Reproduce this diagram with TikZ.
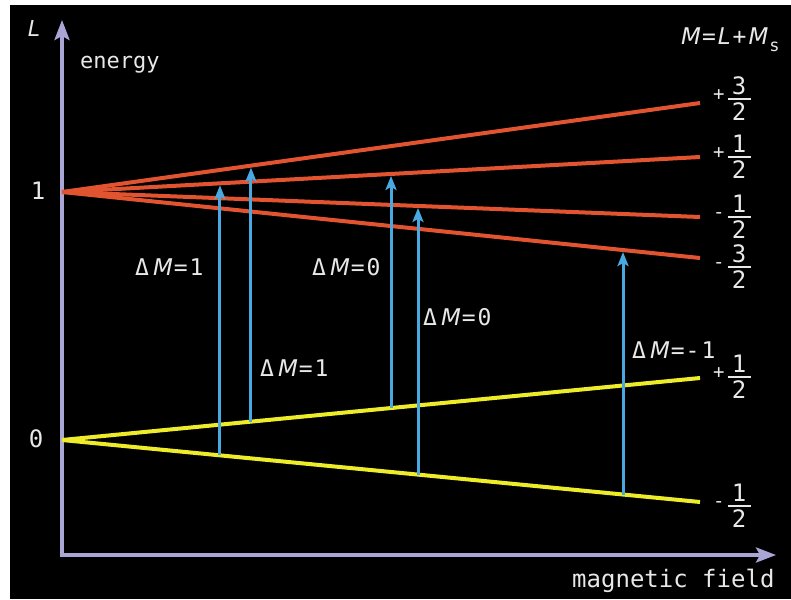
\documentclass[tikz,border=0pt]{standalone}
\usepackage{fontspec}
\usetikzlibrary{arrows.meta,calc}
\newfontfamily\tf{DejaVu Sans Mono}
\newfontfamily\tfs{DejaVu Sans}
\definecolor{axiscol}{RGB}{169,166,214}
\definecolor{redl}{RGB}{226,84,48}
\definecolor{yell}{RGB}{238,236,40}
\definecolor{bluea}{RGB}{74,168,224}
\definecolor{txt}{RGB}{232,232,232}
\newcommand\im[1]{{\tfs\itshape #1}}
\newcommand\dm{Δ\kern4pt\im{M}\kern1pt}
\newcommand\sgn[1]{\raisebox{5pt}{\fontsize{19}{19}\selectfont #1}}
\newcommand\frc[2]{#1\kern3pt$\vcenter{\offinterlineskip\halign{\hfil##\hfil\cr\hbox{#2}\cr\noalign{\kern3pt}\vrule width 23pt height 1.7pt depth 0pt\cr\noalign{\kern3pt}\hbox{2}\cr}}$}
\begin{document}
\begin{tikzpicture}[x=1pt,y=-1pt,
  axisline/.style={draw=axiscol,line width=3.5pt,line join=miter},
  redline/.style={draw=redl,line width=4pt},
  yelline/.style={draw=yell,line width=4pt},
  trans/.style={draw=bluea,line width=3pt,-{Stealth[length=14pt,width=11pt,inset=3pt]},shorten >=2pt},
  lbl/.style={inner sep=0pt,text=txt,font=\tf\fontsize{22}{26}\selectfont},
  dlbl/.style={inner sep=0pt,text=txt,font=\tf\fontsize{23}{27}\selectfont,anchor=base west},
  frlbl/.style={inner sep=0pt,text=txt,font=\tf\fontsize{24}{28}\selectfont,anchor=west}]
\useasboundingbox (0,0) rectangle (791,599);
\fill[white] (0,0) rectangle (791,599);
\fill[black] (9.5,5) rectangle (791,599);
% axes
\coordinate (ytip) at (62,20);
\coordinate (orig) at (62,555);
\coordinate (xtip) at (776,555);
\draw[axisline,{Stealth[length=20pt,width=15pt,inset=4pt]}-{Stealth[length=20pt,width=15pt,inset=4pt]}] (ytip) -- (orig) -- (xtip);
% level origins and ends
\coordinate (l1) at (62,192);
\coordinate (l0) at (62,440);
\coordinate (rA) at (700,103);
\coordinate (rB) at (700,157);
\coordinate (rC) at (700,217);
\coordinate (rD) at (700,258);
\coordinate (yA) at (700,378);
\coordinate (yB) at (700,502);
\draw[redline] (l1) -- (rA);
\draw[redline] (l1) -- (rB);
\draw[redline] (l1) -- (rC);
\draw[redline] (l1) -- (rD);
\draw[yelline] (l0) -- (yA);
\draw[yelline] (l0) -- (yB);
% transitions
\coordinate (a1s) at ($(l0)!0.2476!(yB)$);
\coordinate (a1e) at ($(l1)!0.2476!(rB)$);
\coordinate (a2s) at ($(l0)!0.2962!(yA)$);
\coordinate (a2e) at ($(l1)!0.2962!(rA)$);
\coordinate (a3s) at ($(l0)!0.5157!(yA)$);
\coordinate (a3e) at ($(l1)!0.5157!(rB)$);
\coordinate (a4s) at ($(l0)!0.5580!(yB)$);
\coordinate (a4e) at ($(l1)!0.5580!(rC)$);
\coordinate (a5s) at ($(l0)!0.8793!(yB)$);
\coordinate (a5e) at ($(l1)!0.8793!(rD)$);
\draw[trans] (a1s) -- (a1e);
\draw[trans] (a2s) -- (a2e);
\draw[trans] (a3s) -- (a3e);
\draw[trans] (a4s) -- (a4e);
\draw[trans] (a5s) -- (a5e);
% axis texts
\node[lbl,anchor=base] (Llab) at (34,37) {\im{L}};
\node[lbl,anchor=base west] (energy) at (80,69) {energy};
\node[lbl,font=\tf\fontsize{24}{28}\selectfont,anchor=base west] (field) at (572,587) {magnetic field};
\node[lbl,font=\tf\fontsize{24}{28}\selectfont] (one) at (38,191) {1};
\node[lbl,font=\tf\fontsize{24}{28}\selectfont] (zero) at (36,439) {0};
\node[dlbl] (mlab) at (681,45) {\im{M}\kern1pt=\kern2pt\im{L}\kern2pt+\kern2pt\im{M}\kern1pt\raisebox{-7pt}{\fontsize{17}{17}\selectfont s}};
% transition labels
\node[dlbl] (d1) at (135,275) {\dm=\kern2pt1};
\node[dlbl] (d2) at (260,376) {\dm=\kern2pt1};
\node[dlbl] (d3) at (312,275) {\dm=\kern2pt0};
\node[dlbl] (d4) at (423,325) {\dm=\kern2pt0};
\node[dlbl] (d5) at (632,358) {\dm=\kern1pt-\kern2pt1};
% M values
\node[frlbl] (fA) at (713,99) {\frc{\sgn{+}}{3}};
\node[frlbl] (fB) at (713,157) {\frc{\sgn{+}}{1}};
\node[frlbl] (fC) at (713,217) {\frc{\sgn{-}}{1}};
\node[frlbl] (fD) at (713,267) {\frc{\sgn{-}}{3}};
\node[frlbl] (fE) at (713,377) {\frc{\sgn{+}}{1}};
\node[frlbl] (fF) at (713,506) {\frc{\sgn{-}}{1}};
\end{tikzpicture}
\end{document}
